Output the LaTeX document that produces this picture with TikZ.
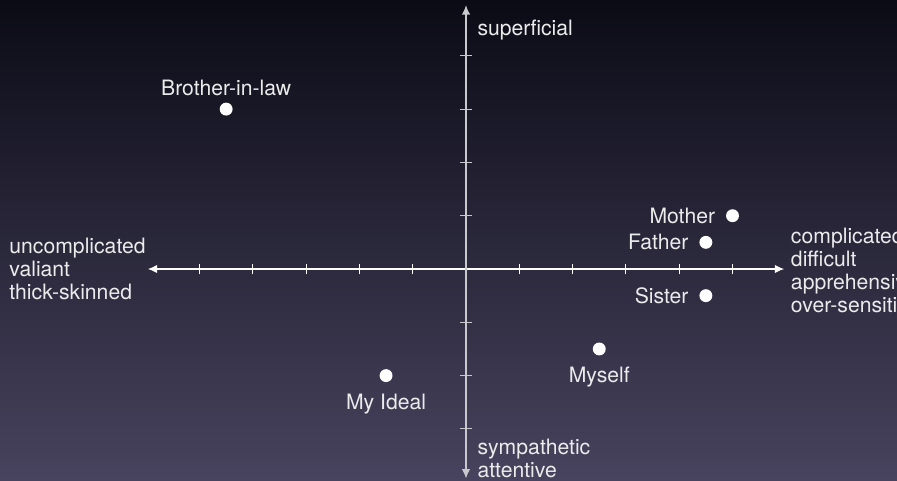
\documentclass[tikz,border=0pt]{standalone}
\usepackage{fontspec}
\setmainfont{TeX Gyre Heros}
\usetikzlibrary{arrows.meta}
\definecolor{bgtop}{RGB}{11,11,22}
\definecolor{bgmid}{RGB}{30,28,48}
\definecolor{bgbot}{RGB}{72,67,94}
\definecolor{axisv}{RGB}{200,200,205}
\tikzset{
  axisline/.style={line width=0.7pt, -{Latex[length=5pt,width=4.5pt]}},
  tickmark/.style={line width=0.5pt},
  lbl/.style={text=white!92!black, font=\fontsize{11.3}{12.3}\selectfont, inner sep=0pt},
  pt/.style={circle, fill=white, minimum size=6.9pt, inner sep=0pt},
}
\begin{document}
\begin{tikzpicture}
\shade[top color=bgtop, middle color=bgmid, bottom color=bgbot] (-8.743,-3.977) rectangle (8.086,5.047);
\useasboundingbox (-8.743,-3.977) rectangle (8.086,5.047);
% axes
\coordinate (O) at (0,0);
\coordinate (xl) at (-5.97,0);
\coordinate (xr) at (5.97,0);
\coordinate (yt) at (0,4.95);
\coordinate (yb) at (0,-3.93);
\draw[axisline, white] (O) -- (xl);
\draw[axisline, white] (O) -- (xr);
\draw[axisline, axisv] (O) -- (yt);
\draw[axisline, axisv] (O) -- (yb);
\foreach \x in {-5,-4,-3,-2,-1,1,2,3,4,5}
  \draw[tickmark, white] (\x,-0.1) -- (\x,0.1);
\foreach \y in {-3,-2,-1,1,2,3,4}
  \draw[tickmark, axisv] (-0.12,\y) -- (0.12,\y);
% axis labels
\node[lbl, anchor=west, align=left] (sup) at (0.21,4.48) {superficial};
\node[lbl, anchor=west, align=left] (sym) at (0.21,-3.56) {sympathetic\\attentive};
\node[lbl, anchor=west, align=left] (unc) at (-8.574,0) {uncomplicated\\valiant\\thick-skinned};
\node[lbl, anchor=west, align=left] (com) at (6.09,-0.03) {complicated\\difficult\\apprehensive\\over-sensitive};
% points
\node[pt] (bil) at (-4.5,3) {};
\node[pt] (mot) at (5,1) {};
\node[pt] (fat) at (4.5,0.5) {};
\node[pt] (sis) at (4.5,-0.5) {};
\node[pt] (mys) at (2.5,-1.5) {};
\node[pt] (ide) at (-1.5,-2) {};
\node[lbl, anchor=base] (bill) at (-4.5,3.26) {Brother-in-law};
\node[lbl, anchor=east] (motl) at (4.68,1) {Mother};
\node[lbl, anchor=east] (fatl) at (4.18,0.5) {Father};
\node[lbl, anchor=east] (sisl) at (4.18,-0.5) {Sister};
\node[lbl, anchor=base] (mysl) at (2.5,-2.13) {Myself};
\node[lbl, anchor=base] (idel) at (-1.5,-2.63) {My Ideal};
\end{tikzpicture}
\end{document}
